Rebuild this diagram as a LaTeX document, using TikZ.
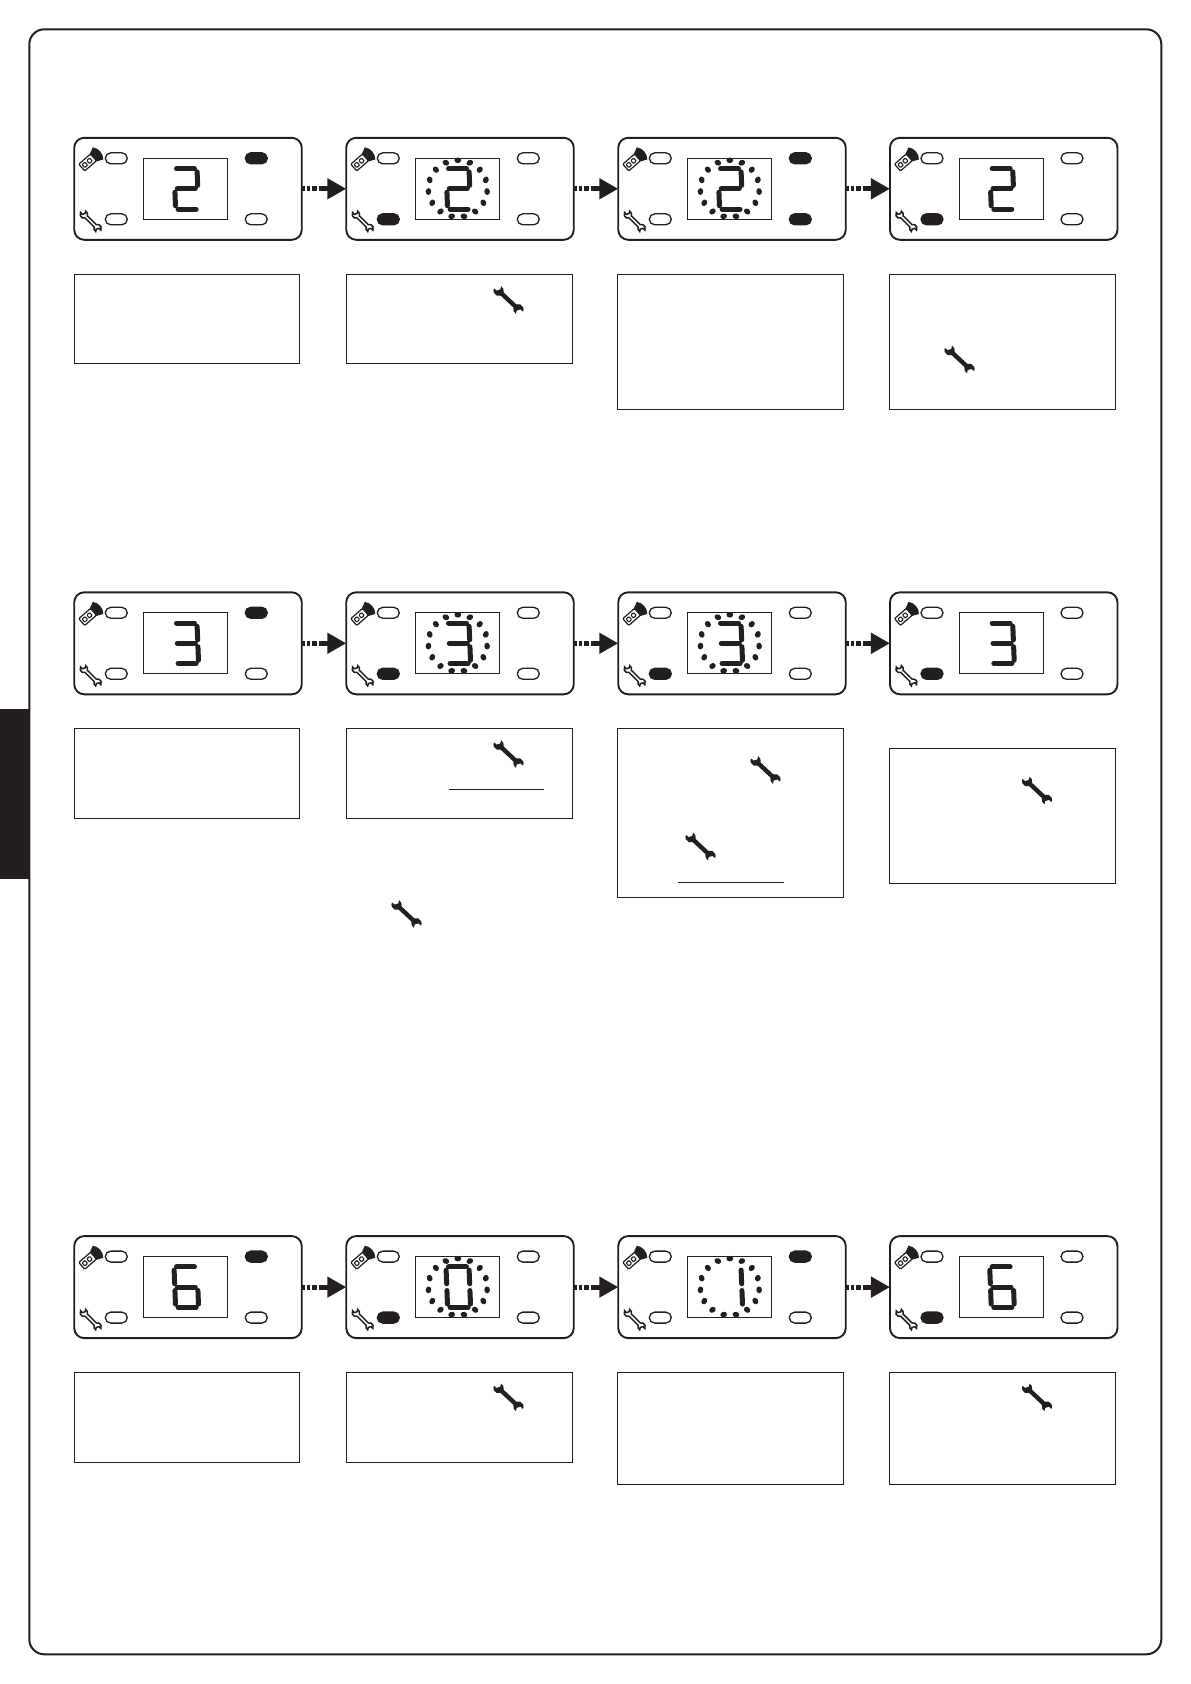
\documentclass[tikz,border=0pt]{standalone}
\usetikzlibrary{arrows.meta,shapes.misc}
\definecolor{ink}{HTML}{231F20}
\tikzset{
  panelbox/.style={draw=ink,line width=1.9pt,rounded corners=10pt,minimum width=227.5pt,minimum height=102pt,inner sep=0pt,outer sep=0pt,fill=white},
  ledoff/.style={rounded rectangle,draw=ink,line width=1.3pt,minimum width=22pt,minimum height=11pt,inner sep=0pt,fill=white},
  ledon/.style={ledoff,fill=ink},
  screenbox/.style={draw=ink,line width=1pt,minimum width=84pt,minimum height=61pt,inner sep=0pt},
  notebox/.style={draw=ink,line width=1pt,inner sep=0pt},
  seg/.style={draw=ink,line width=5pt,line cap=round},
  flow/.style={draw=ink,line width=5pt,dash pattern=on 3.3pt off 1.7pt on 3.3pt off 1.7pt on 5pt off 2pt on 200pt off 0pt,-{Triangle[length=19pt,width=20pt,fill=ink]}},
  rule/.style={draw=ink,line width=1pt},
  pics/wrenchfig/.style={code={
    \path[pic actions]
      (-8.79,-2.2) -- (8.79,-2.2) arc[start angle=205,end angle=345,radius=5.2]
      -- (15.19,-1.33) -- (13.19,2.13) -- (14.85,5.02)
      arc[start angle=75,end angle=155,radius=5.2]
      -- (-8.79,2.2) arc[start angle=25,end angle=165,radius=5.2]
      -- (-15.19,1.33) -- (-13.19,-2.13) -- (-14.85,-5.02)
      arc[start angle=255,end angle=335,radius=5.2] -- cycle;
  }},
  bigwrench/.style={fill=ink,rotate=-43},
  smallwrench/.style={draw=ink,fill=white,line width=1.5pt,rotate=-45,scale=0.72}
}
\newcommand{\segA}{\draw[seg] (-9,-20.2)--(9,-20.2);}
\newcommand{\segB}{\draw[seg] (11.5,-17)--(11.5,-3.4);}
\newcommand{\segC}{\draw[seg] (11.5,3.4)--(11.5,17);}
\newcommand{\segD}{\draw[seg] (-9,20.2)--(9,20.2);}
\newcommand{\segE}{\draw[seg] (-11.5,3.4)--(-11.5,17);}
\newcommand{\segF}{\draw[seg] (-11.5,-17)--(-11.5,-3.4);}
\newcommand{\segG}{\draw[seg] (-9,0)--(9,0);}
\newcommand{\dtwo}{\segA\segB\segG\segE\segD}
\newcommand{\dthree}{\segA\segB\segG\segC\segD}
\newcommand{\dsix}{\segA\segF\segG\segE\segC\segD}
\newcommand{\dzero}{\segA\segB\segC\segD\segE\segF}
\newcommand{\done}{\segB\segC}
\newcommand{\dotring}{%
  \foreach \ang in {0,24,...,336}{
    \fill[ink] ({111.5+29.5*sin(\ang)},{51.3-28.3*cos(\ang)}) ellipse[x radius=3.4,y radius=2.8,rotate=\ang];
  }}
\newcommand{\nodots}{}
% name, left, top, digit, ring, TL, BL, TR, BR
\newcommand{\panel}[9]{%
  \node[panelbox] (#1) at ({#2+113.7},{#3+51.5}) {};
  \begin{scope}[shift={(#2,#3)}]
    \node[#6] (#1-tl) at (42,21) {};
    \node[#7] (#1-bl) at (42,82) {};
    \node[#8] (#1-tr) at (182,21) {};
    \node[#9] (#1-br) at (182,82) {};
    \node[screenbox] (#1-screen) at (111.3,51.5) {};
    \begin{scope}[shift={(112,51.5)},xslant=-0.04]
      #4
    \end{scope}
    #5
    % remote control icon
    \begin{scope}[shift={(13.5,25)},rotate=41]
      \fill[ink] (6,-4.5) -- (13.5,-8) .. controls (17.5,-4) and (17.5,4) .. (13.5,8) -- (6,4.5) -- cycle;
      \draw[ink,line width=1.2pt,fill=white,rounded corners=1pt] (-8,-4.5) rectangle (7.5,4.5);
      \draw[ink,line width=1.1pt,rounded corners=0.8pt] (-5.8,-2) rectangle (-2,2);
      \draw[ink,line width=1.1pt,rounded corners=0.8pt] (0.4,-2) rectangle (4.2,2);
    \end{scope}
    \pic[smallwrench] at (16.4,84) {wrenchfig};
  \end{scope}
}
\begin{document}
\begin{tikzpicture}[x=1pt,y=-1pt]
\useasboundingbox (0,0) rectangle (1191,1684);
\fill[white] (0,0) rectangle (1191,1684);
\draw[ink,line width=2pt,rounded corners=15pt] (29.3,29.3) rectangle (1161.3,1654.3);
\fill[ink] (0,709) rectangle (29,879);
% row 1
\panel{aa}{74.3}{137.3}{\dtwo}{\nodots}{ledoff}{ledoff}{ledon}{ledoff}
\panel{ab}{346.3}{137.3}{\dtwo}{\dotring}{ledoff}{ledon}{ledoff}{ledoff}
\panel{ac}{618.3}{137.3}{\dtwo}{\dotring}{ledoff}{ledoff}{ledon}{ledon}
\panel{ad}{890}{137.3}{\dtwo}{\nodots}{ledoff}{ledon}{ledoff}{ledoff}
% row 2
\panel{ba}{74.3}{591.8}{\dthree}{\nodots}{ledoff}{ledoff}{ledon}{ledoff}
\panel{bb}{346.3}{591.8}{\dthree}{\dotring}{ledoff}{ledon}{ledoff}{ledoff}
\panel{bc}{618.3}{591.8}{\dthree}{\dotring}{ledoff}{ledon}{ledoff}{ledoff}
\panel{bd}{890}{591.8}{\dthree}{\nodots}{ledoff}{ledon}{ledoff}{ledoff}
% row 3
\panel{ca}{74.3}{1235.6}{\dsix}{\nodots}{ledoff}{ledoff}{ledon}{ledoff}
\panel{cb}{346.3}{1235.6}{\dzero}{\dotring}{ledoff}{ledon}{ledoff}{ledoff}
\panel{cc}{618.3}{1235.6}{\done}{\dotring}{ledoff}{ledoff}{ledon}{ledoff}
\panel{cd}{890}{1235.6}{\dsix}{\nodots}{ledoff}{ledon}{ledoff}{ledoff}
% connectors
\foreach \r in {a,b,c}{
  \draw[flow] (\r a.east) -- (\r b.west);
  \draw[flow] (\r b.east) -- (\r c.west);
  \draw[flow] (\r c.east) -- (\r d.west);
}
% note boxes
\draw[notebox] (74.3,274.3) rectangle (299.3,363.3);
\draw[notebox] (346.3,274.3) rectangle (572.3,363.3);
\draw[notebox] (617.7,274.3) rectangle (843.7,409.3);
\draw[notebox] (889.3,274.3) rectangle (1115.7,409.3);
\draw[notebox] (74.3,728.5) rectangle (299.3,818.5);
\draw[notebox] (346.3,728.5) rectangle (572.3,818.5);
\draw[notebox] (617.7,728.5) rectangle (843.7,897);
\draw[notebox] (889.3,748.5) rectangle (1115.7,883);
\draw[notebox] (74.3,1372.3) rectangle (299.3,1462);
\draw[notebox] (346.3,1372.3) rectangle (572.3,1462);
\draw[notebox] (617.7,1372.3) rectangle (843.7,1484.3);
\draw[notebox] (889.3,1372.3) rectangle (1115.7,1484.3);
% rules
\draw[rule] (449,789.5) -- (543.5,789.5);
\draw[rule] (678,882) -- (783.5,882);
% wrenches
\pic[bigwrench] at (508.5,300) {wrenchfig};
\pic[bigwrench] at (959.5,359.5) {wrenchfig};
\pic[bigwrench] at (508.5,754) {wrenchfig};
\pic[bigwrench] at (765.5,770) {wrenchfig};
\pic[bigwrench] at (700.5,846.5) {wrenchfig};
\pic[bigwrench] at (1037,790.5) {wrenchfig};
\pic[bigwrench] at (406.5,914) {wrenchfig};
\pic[bigwrench] at (508.5,1397.3) {wrenchfig};
\pic[bigwrench] at (1037,1397.3) {wrenchfig};
\end{tikzpicture}
\end{document}
